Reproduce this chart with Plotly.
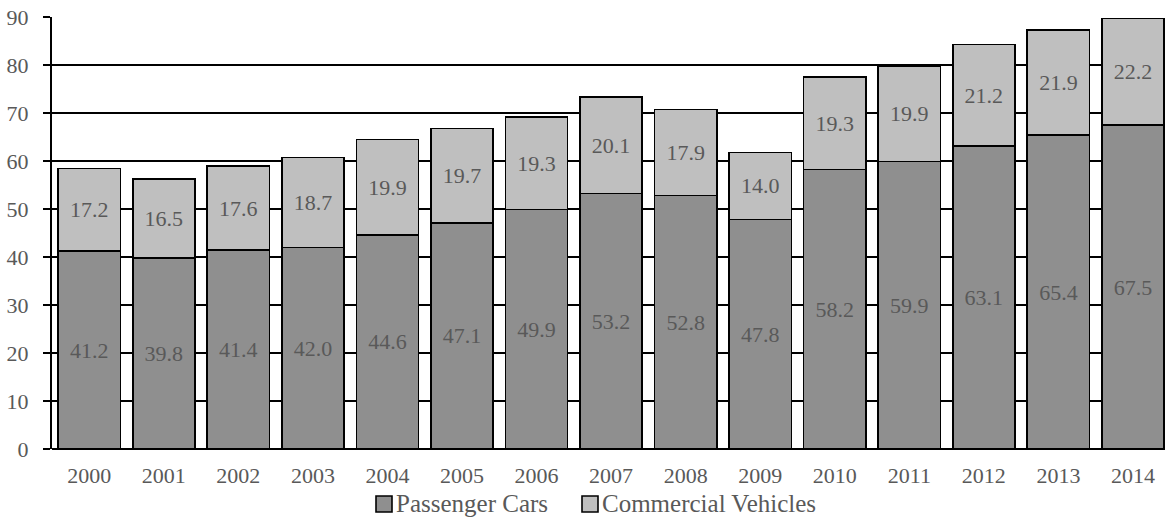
import plotly.graph_objects as go

years = ["2000", "2001", "2002", "2003", "2004", "2005", "2006", "2007",
         "2008", "2009", "2010", "2011", "2012", "2013", "2014"]
passenger_cars = [41.2, 39.8, 41.4, 42.0, 44.6, 47.1, 49.9, 53.2,
                  52.8, 47.8, 58.2, 59.9, 63.1, 65.4, 67.5]
commercial_vehicles = [17.2, 16.5, 17.6, 18.7, 19.9, 19.7, 19.3, 20.1,
                       17.9, 14.0, 19.3, 19.9, 21.2, 21.9, 22.2]
y_ticks = [0, 10, 20, 30, 40, 50, 60, 70, 80, 90]

FONT = "Liberation Serif"
TEXT = "#595959"
SERIES = [
    ("Passenger Cars", passenger_cars, "#8f8f8f"),
    ("Commercial Vehicles", commercial_vehicles, "#bfbfbf"),
]

fig = go.Figure()
for name, vals, color in SERIES:
    fig.add_trace(go.Bar(
        x=years, y=vals, name=name, showlegend=False,
        marker=dict(color=color, line=dict(color="black", width=1.6)),
        text=[f"{v:.1f}" for v in vals],
        textposition="inside", insidetextanchor="middle",
        textangle=0,
        textfont=dict(family=FONT, size=22, color=TEXT),
        cliponaxis=False,
    ))

# Legend drawn below the axis: a boxed swatch followed by the series name.
# Plot area spans 52..1165 px horizontally and 17..449 px vertically.
def px_x(px):
    return (px - 52) / 1113

def px_y(py):
    return (449 - py) / 432

legend_items = [(376, SERIES[0]), (582, SERIES[1])]
for left, (name, _, color) in legend_items:
    fig.add_shape(type="rect", xref="paper", yref="paper",
                  x0=px_x(left), x1=px_x(left + 16),
                  y0=px_y(512), y1=px_y(496),
                  fillcolor=color, line=dict(color="black", width=1.6))
    fig.add_annotation(text=name, xref="paper", yref="paper",
                       x=px_x(left + 18), y=px_y(503.5),
                       xanchor="left", yanchor="middle", showarrow=False,
                       font=dict(family=FONT, size=25, color=TEXT))

fig.update_layout(
    barmode="stack",
    bargap=0.165,
    width=1165, height=517,
    margin=dict(l=52, r=0, t=17, b=68, autoexpand=False),
    paper_bgcolor="white", plot_bgcolor="white",
    font=dict(family=FONT, size=22, color=TEXT),
    uniformtext=dict(minsize=22, mode="show"),
    showlegend=False,
    xaxis=dict(type="category", range=[-0.5, 14.43], showgrid=False,
               ticks="", showline=False, ticklabelstandoff=11,
               tickfont=dict(family=FONT, size=22, color=TEXT)),
    yaxis=dict(range=[0, 90], tickvals=y_ticks, showgrid=True,
               gridcolor="black", gridwidth=2, showline=True,
               linecolor="black", linewidth=2, ticks="outside", ticklen=7,
               tickwidth=2, tickcolor="black", ticklabelstandoff=10,
               zeroline=True, zerolinecolor="black", zerolinewidth=2,
               tickfont=dict(family=FONT, size=22, color=TEXT)),
)

fig.write_html("out.html")
